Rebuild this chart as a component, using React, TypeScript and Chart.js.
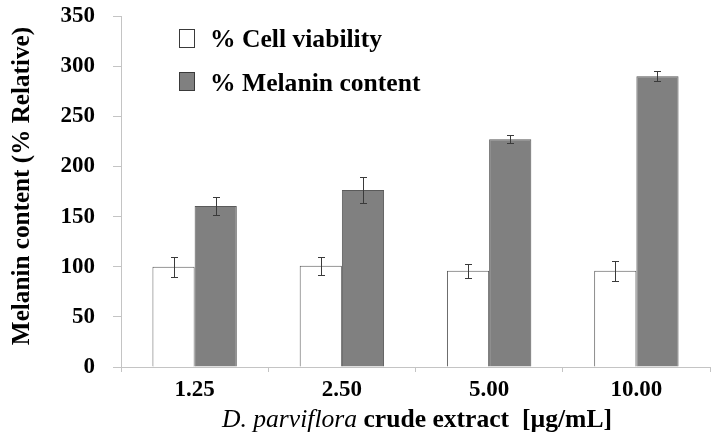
import React, { useEffect, useRef } from "react";
import { Chart, registerables } from "chart.js";

Chart.register(...registerables);

const categories = ["1.25", "2.50", "5.00", "10.00"];
const seriesLabels = ["% Cell viability", "% Melanin content"];
const cellViability = [100, 101, 96, 96];
const cellViabilityErr = [10, 9, 7, 10];
const melaninContent = [160.5, 176.5, 227, 290];
const melaninErr = [9, 12.5, 4, 5];
const yTicksMax = 350;
const yTicksStep = 50;
const xTitleItalic = "D. parviflora";
const xTitleRest = " crude extract  [µg/mL]";
const yTitle = "Melanin content (% Relative)";

const FAMILY = "'Liberation Serif', 'Times New Roman', serif";
const errorsByDataset = [cellViabilityErr, melaninErr];

const errorBarPlugin = {
  id: "errorBars",
  afterDatasetsDraw(chart: any) {
    const ctx = chart.ctx;
    const yScale = chart.scales.y;
    ctx.save();
    ctx.strokeStyle = "#3a3a3a";
    ctx.lineWidth = 1;
    chart.data.datasets.forEach((ds: any, di: number) => {
      const meta = chart.getDatasetMeta(di);
      const errs = errorsByDataset[di];
      meta.data.forEach((el: any, i: number) => {
        const v = ds.data[i];
        const e = errs[i];
        const x = Math.round(el.x) + 0.5;
        const yt = Math.round(yScale.getPixelForValue(v + e)) + 0.5;
        const yb = Math.round(yScale.getPixelForValue(v - e)) + 0.5;
        ctx.beginPath();
        ctx.moveTo(x, yt);
        ctx.lineTo(x, yb);
        ctx.moveTo(x - 3.5, yt);
        ctx.lineTo(x + 3.5, yt);
        ctx.moveTo(x - 3.5, yb);
        ctx.lineTo(x + 3.5, yb);
        ctx.stroke();
      });
    });
    ctx.restore();
  },
};

const legendPlugin = {
  id: "customLegend",
  afterDraw(chart: any) {
    const ctx = chart.ctx;
    ctx.save();
    const rows = [
      { boxTop: 29.5, base: 47 },
      { boxTop: 72.5, base: 91 },
    ];
    chart.data.datasets.forEach((ds: any, i: number) => {
      const r = rows[i];
      ctx.fillStyle = ds.backgroundColor;
      ctx.fillRect(179.5, r.boxTop, 15, 18);
      ctx.strokeStyle = "#3a3a3a";
      ctx.lineWidth = 1;
      ctx.strokeRect(179.5, r.boxTop, 15, 18);
      ctx.fillStyle = "#000";
      ctx.font = `bold 25.6px ${FAMILY}`;
      ctx.textBaseline = "alphabetic";
      ctx.textAlign = "left";
      ctx.fillText(ds.label, 210, r.base);
    });
    ctx.restore();
  },
};

const titlePlugin = {
  id: "axisTitles",
  afterDraw(chart: any) {
    const ctx = chart.ctx;
    ctx.save();
    ctx.fillStyle = "#000";
    ctx.textBaseline = "alphabetic";
    ctx.textAlign = "left";
    const fi = `italic 25.6px ${FAMILY}`;
    const fb = `bold 25.6px ${FAMILY}`;
    ctx.font = fi;
    const w1 = ctx.measureText(xTitleItalic).width;
    ctx.font = fb;
    const w2 = ctx.measureText(xTitleRest).width;
    const cx = 417;
    const sx = cx - (w1 + w2) / 2;
    ctx.font = fi;
    ctx.fillText(xTitleItalic, sx, 427);
    ctx.font = fb;
    ctx.fillText(xTitleRest, sx + w1, 427);

    ctx.translate(22, 186);
    ctx.rotate(-Math.PI / 2);
    ctx.font = `bold 25.2px ${FAMILY}`;
    ctx.textAlign = "center";
    ctx.textBaseline = "middle";
    ctx.fillText(yTitle, 0, 0);
    ctx.restore();
  },
};

export default function App() {
  const ref = useRef<HTMLCanvasElement | null>(null);
  useEffect(() => {
    if (!ref.current) return;
    const chart = new Chart(ref.current, {
      type: "bar",
      data: {
        labels: categories,
        datasets: [
          {
            label: seriesLabels[0],
            data: cellViability,
            backgroundColor: "#ffffff",
            borderColor: "#5a5a5a",
            borderWidth: 1,
          },
          {
            label: seriesLabels[1],
            data: melaninContent,
            backgroundColor: "#808080",
            borderColor: "#5a5a5a",
            borderWidth: 1,
          },
        ],
      },
      options: {
        animation: false,
        responsive: false,
        devicePixelRatio: 1,
        layout: { padding: { top: 16, right: 7, left: 0, bottom: 0 } },
        datasets: { bar: { barPercentage: 1, categoryPercentage: 0.573 } },
        plugins: { legend: { display: false }, tooltip: { enabled: false } },
        scales: {
          x: {
            grid: {
              display: true,
              drawOnChartArea: false,
              offset: true,
              tickLength: 5,
              color: "#c4c4c4",
            },
            border: { color: "#c4c4c4" },
            ticks: {
              color: "#000",
              padding: 4,
              font: { family: FAMILY, size: 23, weight: "bold" },
            },
            afterFit(s: any) {
              s.height = 81;
              s.paddingLeft = 0;
              s.paddingRight = 0;
            },
          },
          y: {
            min: 0,
            max: yTicksMax,
            ticks: {
              stepSize: yTicksStep,
              color: "#000",
              padding: 18,
              font: { family: FAMILY, size: 23, weight: "bold" },
            },
            grid: { drawOnChartArea: false, tickLength: 8, color: "#c4c4c4" },
            border: { color: "#c4c4c4" },
            afterFit(s: any) {
              s.width = 121;
              s.paddingTop = 0;
              s.paddingBottom = 0;
            },
          },
        },
      } as any,
      plugins: [errorBarPlugin, legendPlugin, titlePlugin],
    });
    return () => chart.destroy();
  }, []);
  return (
    <div
      style={{
        position: "fixed",
        left: 0,
        top: 0,
        width: 717,
        height: 448,
        background: "#fff",
      }}
    >
      <canvas ref={ref} width={717} height={448} style={{ width: 717, height: 448 }} />
    </div>
  );
}
